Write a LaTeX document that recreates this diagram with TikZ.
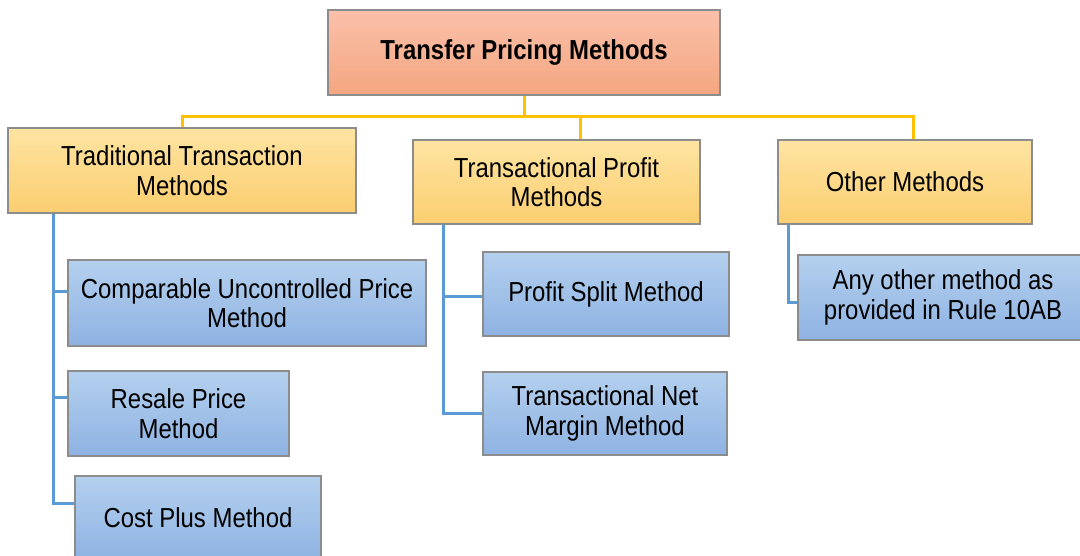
\documentclass[tikz,border=0pt]{standalone}
\usepackage{fontspec}
\setmainfont[FakeStretch=0.87]{Liberation Sans}
\usepackage{xcolor}
\usepackage{tikz}

\definecolor{rootTop}{RGB}{250,192,170}
\definecolor{rootBot}{RGB}{244,166,128}
\definecolor{grpTop}{RGB}{254,228,162}
\definecolor{grpBot}{RGB}{251,206,112}
\definecolor{mthTop}{RGB}{180,208,238}
\definecolor{mthBot}{RGB}{142,178,226}
\definecolor{treeYellow}{RGB}{255,192,0}
\definecolor{treeBlue}{RGB}{91,155,213}

\begin{document}
\begin{tikzpicture}[x=1pt, y=-1pt,
  box/.style={rectangle, draw=black!45, line width=1.2pt, align=center, inner sep=0pt,
    font=\fontsize{27.5}{29.5}\selectfont},
  rootbox/.style={box, top color=rootTop, bottom color=rootBot,
    font=\fontsize{27.5}{29.5}\selectfont\bfseries},
  groupbox/.style={box, top color=grpTop, bottom color=grpBot},
  methodbox/.style={box, top color=mthTop, bottom color=mthBot},
  yline/.style={draw=treeYellow, line width=3pt},
  bline/.style={draw=treeBlue, line width=3pt}]
\useasboundingbox (0,0) rectangle (1080,555);
\clip (0,0) rectangle (1080,555);

% Boxes
\node[rootbox, minimum width=392pt, minimum height=85pt] (root) at (524,52.5) {Transfer Pricing Methods};

\node[groupbox, minimum width=348pt, minimum height=85pt] (trad) at (182,170.5) {Traditional Transaction\\Methods};
\node[groupbox, minimum width=287pt, minimum height=84pt] (prof) at (556.5,182) {Transactional Profit\\Methods};
\node[groupbox, minimum width=254pt, minimum height=84pt] (other) at (905,182) {Other Methods};

\node[methodbox, minimum width=358pt, minimum height=86pt] (cup) at (247,303) {Comparable Uncontrolled Price\\Method};
\node[methodbox, minimum width=221pt, minimum height=85pt] (resale) at (178.5,413.5) {Resale Price\\Method};
\node[methodbox, minimum width=246pt, minimum height=84pt] (cost) at (198,518) {Cost Plus Method};

\node[methodbox, minimum width=246pt, minimum height=84pt] (split) at (606,294) {Profit Split Method};
\node[methodbox, minimum width=244pt, minimum height=83pt] (tnmm) at (605,413.5) {Transactional Net\\Margin Method};

\node[methodbox, minimum width=290pt, minimum height=85pt] (any) at (943,297.5) {Any other method as\\provided in Rule 10AB};

%Lines
\draw[yline] (root.south) -- ++(0,21) -| (trad.north);
\draw[yline] (root.south) -- ++(0,21) -| ([xshift=23.5pt]prof.north);
\draw[yline] (root.south) -- ++(0,21) -| ([xshift=8pt]other.north);

\draw[bline] ([xshift=-129pt]trad.south) |- ([yshift=12pt]cup.west);
\draw[bline] ([xshift=-129pt]trad.south) |- ([yshift=16.5pt]resale.west);
\draw[bline] ([xshift=-129pt]trad.south) |- ([yshift=15pt]cost.west);

\draw[bline] ([xshift=-113.5pt]prof.south) |- ([yshift=-2pt]split.west);
\draw[bline] ([xshift=-113.5pt]prof.south) |- (tnmm.west);

\draw[bline] ([xshift=-117pt]other.south) |- ([yshift=-4.5pt]any.west);
\end{tikzpicture}
\end{document}
